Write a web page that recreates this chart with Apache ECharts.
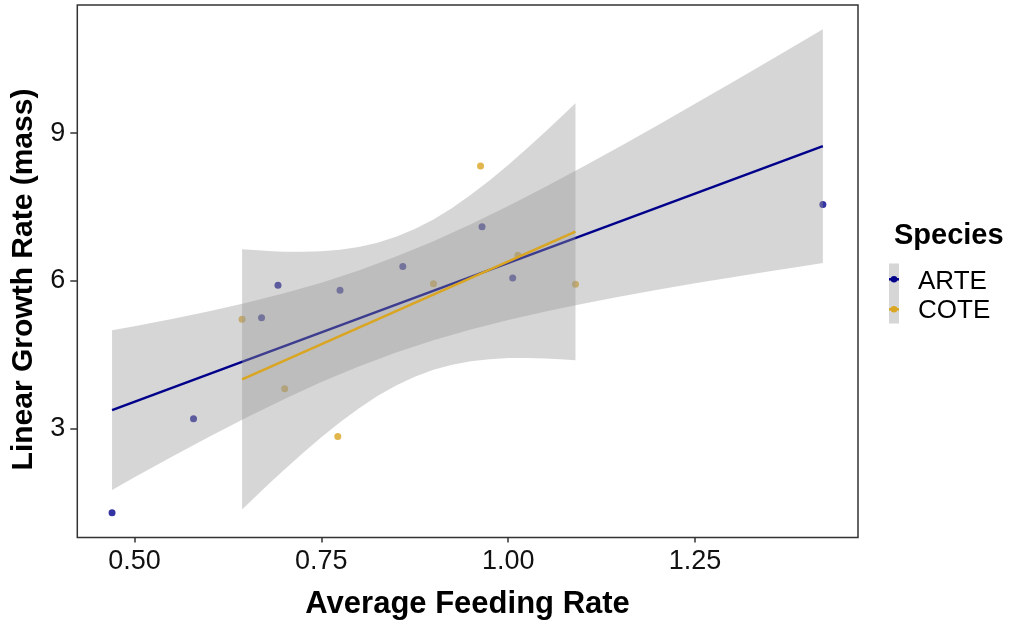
<!DOCTYPE html>
<html>
<head>
<meta charset="utf-8">
<script src="https://cdn.jsdelivr.net/npm/echarts@6/dist/echarts.min.js"></script>
<style>
  html, body { margin: 0; padding: 0; background: #ffffff; }
  #chart { width: 1010px; height: 624px; }
</style>
</head>
<body>
<div id="chart"></div>
<script>
// Tick positions
const xTicks = [0.5, 0.75, 1.0, 1.25];
const yTicks = [3, 6, 9];

// Observations: average feeding rate vs linear growth rate (mass)
const arteFeeding = [0.470, 0.579, 0.670, 0.692, 0.775, 0.859, 0.965, 1.006, 1.421];
const arteGrowth  = [1.29, 3.20, 5.25, 5.91, 5.81, 6.29, 7.10, 6.06, 7.55];
const coteFeeding = [0.644, 0.701, 0.772, 0.900, 0.963, 1.013, 1.090];
const coteGrowth  = [5.22, 3.81, 2.84, 5.94, 8.33, 6.52, 5.93];

// Linear fits (end points)
const arteFitX = [0.470, 1.421];
const arteFitY = [3.376, 8.736];
const coteFitX = [0.644, 1.090];
const coteFitY = [4.001, 6.998];

// 95% confidence bands around the fits
const arteBandX  = [0.470, 0.50, 0.55, 0.60, 0.65, 0.70, 0.75, 0.80, 0.85, 0.90, 0.95, 1.00,
                    1.05, 1.10, 1.15, 1.20, 1.25, 1.30, 1.35, 1.40, 1.421];
const arteBandLo = [1.756, 2.011, 2.429, 2.836, 3.227, 3.598, 3.945, 4.261, 4.544, 4.792, 5.011, 5.205,
                    5.378, 5.536, 5.682, 5.819, 5.950, 6.075, 6.197, 6.314, 6.363];
const arteBandHi = [4.996, 5.079, 5.225, 5.382, 5.553, 5.746, 5.963, 6.211, 6.492, 6.806, 7.151, 7.521,
                    7.912, 8.318, 8.734, 9.161, 9.594, 10.033, 10.475, 10.920, 11.109];
const coteBandX  = [0.644, 0.66, 0.67, 0.685, 0.70, 0.725, 0.75, 0.775, 0.80, 0.825, 0.85, 0.875,
                    0.90, 0.925, 0.95, 0.975, 1.00, 1.025, 1.05, 1.07, 1.090];
const coteBandLo = [1.360, 1.594, 1.738, 1.951, 2.161, 2.500, 2.825, 3.130, 3.410, 3.661, 3.877, 4.055,
                    4.194, 4.297, 4.368, 4.411, 4.432, 4.436, 4.426, 4.410, 4.388];
const coteBandHi = [6.642, 6.624, 6.614, 6.603, 6.593, 6.590, 6.601, 6.632, 6.688, 6.773, 6.893, 7.051,
                    7.248, 7.481, 7.746, 8.039, 8.354, 8.686, 9.032, 9.318, 9.608];

const species = ['ARTE', 'COTE'];
const colors = { ARTE: '#00008B', COTE: '#DAA520' };
const bandFill = 'rgba(153,153,153,0.4)';
const FONT = "'Liberation Sans', Arial, sans-serif";

function pairs(xs, ys) { return xs.map((x, i) => [x, ys[i]]); }

// Confidence ribbon drawn as one polygon: upper edge left to right, lower edge back
function bandSeries(xs, lo, hi, z) {
  return {
    type: 'custom',
    z: z,
    silent: true,
    data: xs.map((x, i) => [x, lo[i], hi[i]]),
    encode: { x: 0, y: [1, 2] },
    renderItem: function (params, api) {
      if (params.dataIndex !== 0) return null;
      const pts = [];
      for (let i = 0; i < xs.length; i++) pts.push(api.coord([xs[i], hi[i]]));
      for (let i = xs.length - 1; i >= 0; i--) pts.push(api.coord([xs[i], lo[i]]));
      return { type: 'polygon', shape: { points: pts }, style: { fill: bandFill } };
    }
  };
}

function lineSeries(name, xs, ys, z) {
  return {
    name: name, type: 'line', z: z, silent: true,
    data: pairs(xs, ys), showSymbol: false,
    lineStyle: { color: colors[name], width: 2.5 }
  };
}

const chart = echarts.init(document.getElementById('chart'), null, { renderer: 'canvas' });

// Axis titles and the Species legend
const legendX = 889, legendY = [279.3, 309.3], legendTextY = [281.5, 311];
const graphics = [
  { type: 'text', x: 467.6, y: 604, style: { text: 'Average Feeding Rate', font: 'bold 31px ' + FONT, fill: '#000', textAlign: 'center', verticalAlign: 'middle' } },
  { type: 'text', x: 23.5, y: 279.5, rotation: Math.PI / 2, style: { text: 'Linear Growth Rate (mass)', font: 'bold 30px ' + FONT, fill: '#000', textAlign: 'center', verticalAlign: 'middle' } },
  { type: 'text', x: 894, y: 236, style: { text: 'Species', font: 'bold 29px ' + FONT, fill: '#000', verticalAlign: 'middle' } },
  { type: 'rect', shape: { x: legendX, y: 263.5, width: 10, height: 60 }, style: { fill: bandFill } }
];
species.forEach((s, i) => {
  graphics.push(
    { type: 'line', shape: { x1: legendX, y1: legendY[i], x2: legendX + 10, y2: legendY[i] }, style: { stroke: colors[s], lineWidth: 2.5 } },
    { type: 'circle', shape: { cx: legendX + 5, cy: legendY[i], r: 3.3 }, style: { fill: colors[s] } },
    { type: 'text', x: 918, y: legendTextY[i], style: { text: s, font: '26px ' + FONT, fill: '#000', verticalAlign: 'middle' } }
  );
});

chart.setOption({
  animation: false,
  backgroundColor: '#ffffff',
  grid: { left: 77.3, right: 152, top: 5, bottom: 86.5, show: true, borderColor: '#333333', borderWidth: 1.5, backgroundColor: 'transparent' },
  xAxis: {
    type: 'value', min: 0.4235, max: 1.468,
    axisLine: { show: false },
    axisTick: { show: true, customValues: xTicks, length: 5, lineStyle: { color: '#333', width: 1.5 } },
    axisLabel: { customValues: xTicks, formatter: v => v.toFixed(2), fontFamily: FONT, fontSize: 27, color: '#111', margin: 11 },
    splitLine: { show: false }
  },
  yAxis: {
    type: 'value', min: 0.79, max: 11.60,
    axisLine: { show: false },
    axisTick: { show: true, customValues: yTicks, length: 7, lineStyle: { color: '#333', width: 1.5 } },
    axisLabel: { customValues: yTicks, fontFamily: FONT, fontSize: 27, color: '#111', margin: 12 },
    splitLine: { show: false }
  },
  series: [
    { name: 'ARTE', type: 'scatter', z: 1, silent: true, symbolSize: 7, data: pairs(arteFeeding, arteGrowth), itemStyle: { color: colors.ARTE } },
    { name: 'COTE', type: 'scatter', z: 1, silent: true, symbolSize: 7, data: pairs(coteFeeding, coteGrowth), itemStyle: { color: colors.COTE } },
    bandSeries(arteBandX, arteBandLo, arteBandHi, 2),
    lineSeries('ARTE', arteFitX, arteFitY, 3),
    bandSeries(coteBandX, coteBandLo, coteBandHi, 4),
    lineSeries('COTE', coteFitX, coteFitY, 5)
  ],
  graphic: graphics
});
</script>
</body>
</html>
